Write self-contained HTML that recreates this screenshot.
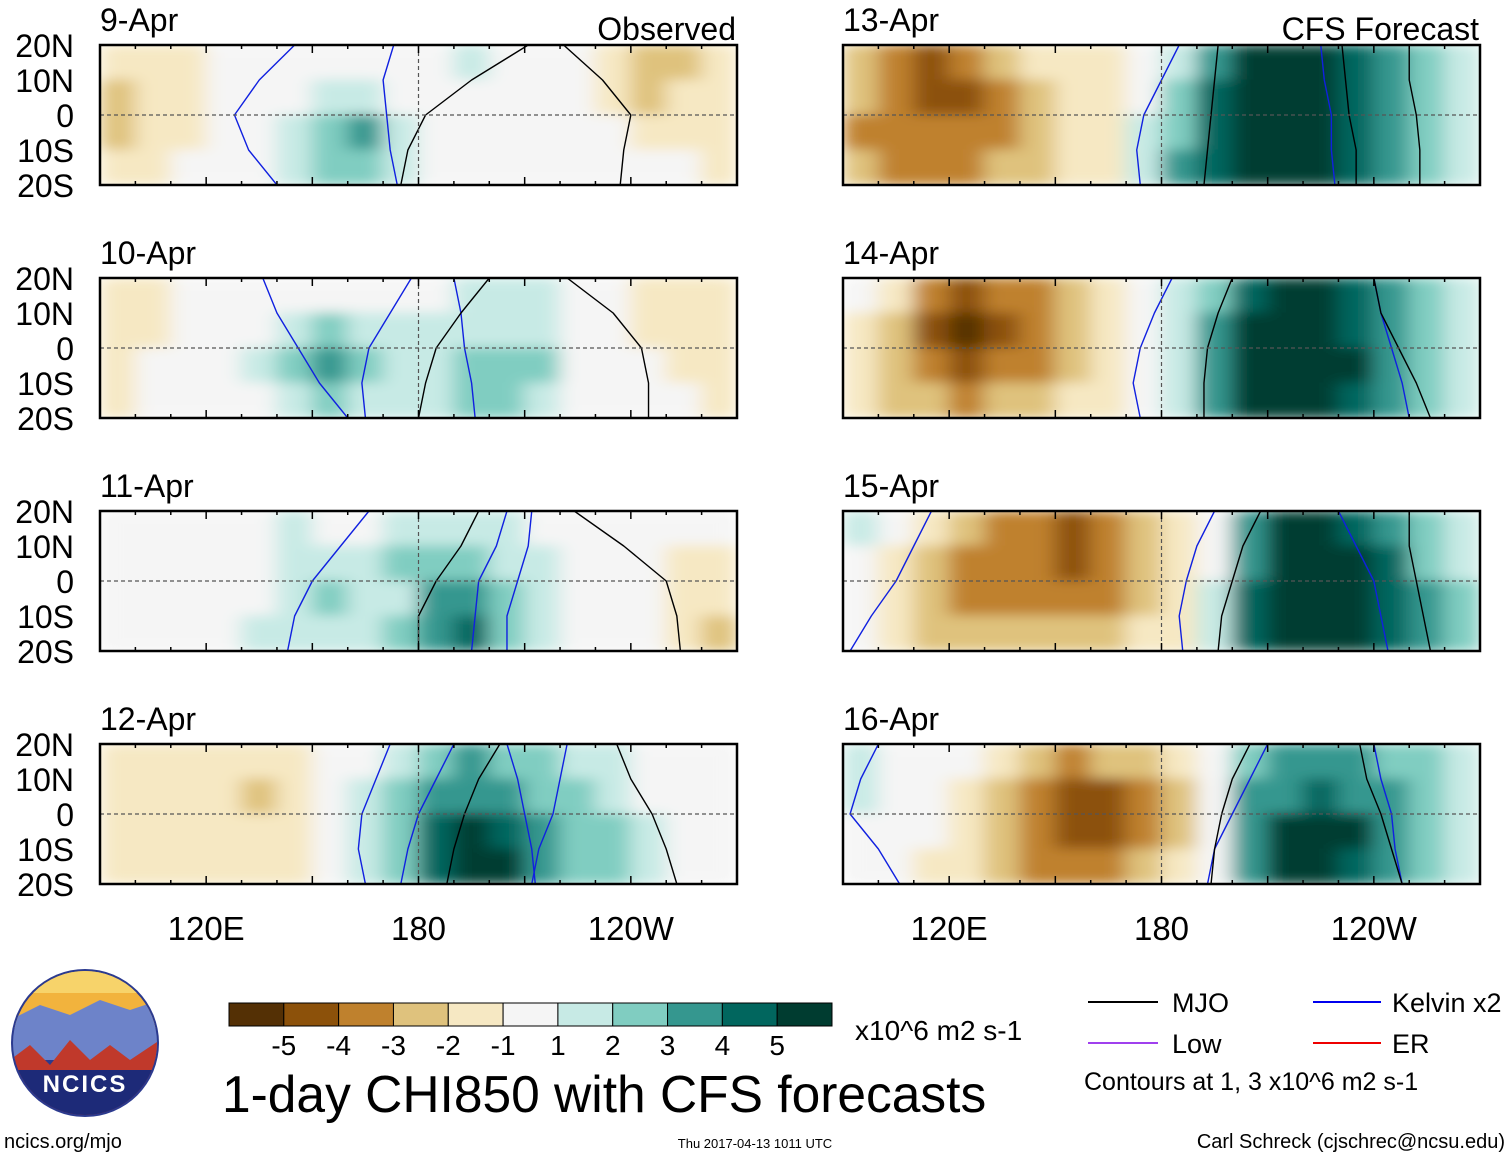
<!DOCTYPE html>
<html><head><meta charset="utf-8"><style>
html,body{margin:0;padding:0;background:#fff;width:1510px;height:1158px;overflow:hidden}
svg{display:block;font-family:"Liberation Sans",sans-serif}
</style></head><body>
<svg id="fig" width="1510" height="1158" viewBox="0 0 1510 1158" xmlns="http://www.w3.org/2000/svg">
<defs><filter id="bl" x="0" y="0" width="1" height="1"><feGaussianBlur stdDeviation="10 6" edgeMode="duplicate"/></filter></defs>
<g id="panels"></g>
<g id="bottom">
 <g>
  <circle cx="85" cy="1043" r="74" fill="#2b3a8f"/>
  <clipPath id="lc"><circle cx="85" cy="1043" r="72"/></clipPath>
  <g clip-path="url(#lc)">
   <rect x="10" y="968" width="150" height="60" fill="#f2b33d"/>
   <rect x="10" y="968" width="150" height="25" fill="#f7d36a"/>
   <path d="M10 1020 L40 1005 L70 1015 L100 1000 L130 1010 L160 1000 L160 1060 L10 1060Z" fill="#6d83c9"/>
   <path d="M10 1060 L30 1045 L50 1065 L70 1040 L90 1060 L110 1045 L130 1060 L160 1040 L160 1120 L10 1120Z" fill="#c0392b"/>
   <path d="M10 1070 L160 1070 L160 1120 L10 1120Z" fill="#1d2a78"/>
  </g>
  <text x="85" y="1092" text-anchor="middle" font-size="24" font-weight="bold" fill="#fff" letter-spacing="2">NCICS</text>
 </g>
 <text x="4" y="1148" font-size="20">ncics.org/mjo</text>
 <g id="cbar"></g>
 <text x="855" y="1040" font-size="28">x10^6 m2 s-1</text>
 <text x="222" y="1112" font-size="51.5">1-day CHI850 with CFS forecasts</text>
 <text x="755" y="1148" font-size="13" text-anchor="middle">Thu 2017-04-13 1011 UTC</text>
 <text x="1505" y="1148" font-size="20" text-anchor="end">Carl Schreck (cjschrec@ncsu.edu)</text>
 <g>
  <line x1="1088" y1="1002" x2="1158" y2="1002" stroke="#000" stroke-width="2"/><text x="1172" y="1012" font-size="27">MJO</text>
  <line x1="1313" y1="1002" x2="1381" y2="1002" stroke="#0000ee" stroke-width="2"/><text x="1392" y="1012" font-size="27">Kelvin x2</text>
  <line x1="1088" y1="1043" x2="1158" y2="1043" stroke="#a040ee" stroke-width="2"/><text x="1172" y="1053" font-size="27">Low</text>
  <line x1="1313" y1="1043" x2="1381" y2="1043" stroke="#ee0000" stroke-width="2"/><text x="1392" y="1053" font-size="27">ER</text>
  <text x="1084" y="1090" font-size="25">Contours at 1, 3 x10^6 m2 s-1</text>
 </g>
</g>
</svg>
<script>
const lonStart = [90,100,110,120,130,140,150,160,170,180,190,200,210,220,230,240,250,260];
const latRows = ["20N-10N","10N-0","0-10S","10S-20S"];
const contourLats = [20,10,0,-10,-20];
const levels = [-5,-4,-3,-2,-1,1,2,3,4,5];
const levelLabels = ["-5","-4","-3","-2","-1","1","2","3","4","5"];
const panelTitles = ["9-Apr","10-Apr","11-Apr","12-Apr","13-Apr","14-Apr","15-Apr","16-Apr"];
const latLabels = ["20N","10N","0","10S","20S"];
const lonLabels = ["120E","180","120W"];
const lonLabelVals = [120,180,240];
const p9 = [[-1.5,-1.5,-1,0,0,0,0,0,0,0,1.5,0,0,0,-1.5,-2.5,-2,-1.5],[-2,-1.5,-1.5,0,0,0,1.5,1.5,0,0,0,0,0,0,-1.5,-2.5,-1.5,-1.5],[-2.5,-1.5,-1.5,0,0,1.5,2.5,3.5,1.5,0,0,0,0,0,0,-1,-1,-1.5],[-1.5,-1.5,0,0,0,1.5,2.5,2.5,1.5,0,0,0,0,0,0,0,0,-1.5]];
const p10 = [[-1.5,-1,0,0,0,0,0,0,0,0,1.5,1.5,1.5,0,0,-1,-1.5,-1.5],[-1.5,-1,0,0,0,1.5,2.5,1.5,1.5,1.5,1.5,1.5,1.5,0,0,-1,-1.5,-1.5],[-1.5,0,0,0,1.5,2.5,3.5,2.5,1.5,1.5,2.5,2.5,2.5,0,0,0,-1.5,-1.5],[-1,0,0,0,0,1.5,2.5,1.5,1.5,1.5,2.5,2.5,1.5,0,0,0,0,-1.5]];
const p11 = [[0,0,0,0,0,1.5,0,0,1.5,1.5,1.5,1.5,0,0,0,0,0,0],[0,0,0,0,0,1.5,1.5,1.5,2.5,2.5,2.5,1.5,1.5,0,0,0,-1,-1.5],[0,0,0,0,0,1.5,2.5,1.5,1.5,3.5,3.5,2.5,1.5,0,0,0,-1.5,-1.5],[0,0,0,0,1.5,1.5,1.5,1.5,2.5,3.5,4.5,2.5,1.5,0,0,0,-1.5,-2.5]];
const p12 = [[-1.5,-1,-1.5,-1.5,-1.5,-1,0,0,1.5,2.5,3.5,2.5,2.5,1.5,1.5,0,0,0],[-1.5,-1.5,-1.5,-1.5,-2.5,-1.5,0,1.5,2.5,3.5,3.5,3.5,2.5,2.5,1.5,0,0,0],[-1.5,-1.5,-1.5,-1.5,-1.5,-1.5,0,1.5,2.5,4.5,5.5,4.5,3.5,2.5,2.5,1.5,0,0],[-1.5,-1.5,-1.5,-1.5,-1.5,-1,0,1.5,2.5,4.5,5.5,5.5,3.5,2.5,2.5,1.5,0,0]];
const p13 = [[-2.5,-3.5,-4.5,-3.5,-2.5,-1.5,-1.5,-1,0,1.5,3.5,5.5,5.5,5.5,4.5,3.5,2.5,1.5],[-2.5,-3.5,-4.5,-4.5,-3.5,-2.5,-1.5,-1,0,2.5,4.5,5.5,5.5,5.5,4.5,3.5,2.5,1.5],[-3.5,-3.5,-3.5,-3.5,-3.5,-2.5,-1.5,-1,1.5,2.5,4.5,5.5,5.5,5.5,4.5,3.5,2.5,1.5],[-2.5,-3.5,-3.5,-3.5,-2.5,-2.5,-1.5,-1,1.5,3.5,4.5,5.5,5.5,5.5,4.5,3.5,2.5,1.5]];
const p14 = [[0,-1.5,-3.5,-4.5,-3.5,-3.5,-2.5,-1.5,0,1.5,2.5,4.5,5.5,5.5,4.5,3.5,2.5,1.5],[-1.5,-2.5,-4.5,-5.5,-4.5,-3.5,-2.5,-1.5,0,1.5,3.5,5.5,5.5,5.5,4.5,3.5,2.5,1.5],[-1.5,-2.5,-3.5,-4.5,-3.5,-3.5,-2.5,-1.5,0,1.5,3.5,5.5,5.5,5.5,5.5,3.5,2.5,1.5],[-1.5,-2.5,-2.5,-3.5,-2.5,-2.5,-1.5,-1,0,1.5,3.5,5.5,5.5,5.5,4.5,3.5,2.5,1.5]];
const p15 = [[1.5,0,-1.5,-2.5,-3.5,-3.5,-4.5,-3.5,-2.5,-1.5,0,3.5,5.5,5.5,4.5,3.5,2.5,1.5],[0,-1.5,-2.5,-3.5,-3.5,-3.5,-4.5,-3.5,-2.5,-1.5,0,3.5,5.5,5.5,5.5,4.5,2.5,1.5],[0,-1.5,-2.5,-3.5,-3.5,-3.5,-3.5,-3.5,-2.5,-1.5,1.5,4.5,5.5,5.5,5.5,4.5,3.5,2.5],[0,-1,-2.5,-2.5,-2.5,-2.5,-2.5,-2.5,-1.5,-1,1.5,4.5,5.5,5.5,5.5,4.5,3.5,2.5]];
const p16 = [[1.5,0,0,0,-1.5,-2.5,-3.5,-2.5,-2.5,-1.5,0,2.5,3.5,3.5,3.5,2.5,2.5,1.5],[1.5,0,0,-1.5,-2.5,-3.5,-4.5,-4.5,-3.5,-2.5,0,3.5,3.5,4.5,3.5,3.5,2.5,1.5],[0,0,0,-1.5,-2.5,-3.5,-4.5,-4.5,-3.5,-2.5,0,3.5,5.5,5.5,5.5,3.5,2.5,1.5],[0,0,-1,-1.5,-2.5,-3.5,-3.5,-3.5,-2.5,-1.5,0,3.5,5.5,5.5,4.5,3.5,2.5,1.5]];
const panelData = [p9,p10,p11,p12,p13,p14,p15,p16];
const mjo9 = [[211,195,182,177,175],[221,232,240,238,237]];
const mjo10 = [[200,192,185,182,180],[222,235,243,245,245]];
const mjo11 = [[197,192,185,180,180],[224,238,250,253,254]];
const mjo12 = [[203,197,193,190,188],[236,240,246,250,253]];
const mjo13 = [[196,195,194,193,192],[231,232,233,235,235],[250,250,252,253,253]];
const mjo14 = [[200,196,193,192,192],[240,242,247,252,256]];
const mjo15 = [[208,203,200,197,196],[250,250,252,254,256]];
const mjo16 = [[205,200,197,195,194],[236,238,242,245,248]];
const mjoData = [mjo9,mjo10,mjo11,mjo12,mjo13,mjo14,mjo15,mjo16];
const kel9 = [[145,135,128,132,140],[173,170,171,172,174]];
const kel10 = [[136,140,146,152,160],[178,172,166,164,165],[190,192,193,195,196]];
const kel11 = [[166,158,150,145,143],[205,202,197,196,195],[212,211,208,205,205]];
const kel12 = [[172,168,164,163,165],[190,185,180,177,175],[205,208,210,212,213],[222,220,218,214,212]];
const kel13 = [[185,180,175,173,174],[225,226,228,228,229]];
const kel14 = [[183,178,174,172,174],[240,242,245,248,250]];
const kel15 = [[115,110,105,98,92],[195,190,187,185,186],[230,235,240,242,244]];
const kel16 = [[100,95,92,100,106],[210,205,200,195,193],[240,242,245,246,248]];
const kelData = [kel9,kel10,kel11,kel12,kel13,kel14,kel15,kel16];

const colors = ["#543005","#8c510a","#bf812d","#dfc27d","#f6e8c3","#f5f5f5","#c7eae5","#80cdc1","#35978f","#01665e","#003c30"];
function colorFor(v){let i=0;while(i<levels.length && v>levels[i]) i++;return colors[i];}
const NS="http://www.w3.org/2000/svg";
function mk(tag,attrs,parent){const e=document.createElementNS(NS,tag);for(const k in attrs)e.setAttribute(k,attrs[k]);parent.appendChild(e);return e;}
const panels=document.getElementById('panels');
const colX=[100,843], W=637, rowY=[45,278,511,744], H=140;
panelData.forEach((grid,pi)=>{
  const col=pi<4?0:1,row=pi%4;
  const x0=colX[col],y0=rowY[row];
  const xs=lon=>x0+(lon-90)/180*W;
  const ys=lat=>y0+(20-lat)/40*H;
  const g=mk('g',{},panels);
  
  
  const cp=mk('clipPath',{id:'cp'+pi},g);mk('rect',{x:x0,y:y0,width:W,height:H},cp);
  const cg=mk('g',{'clip-path':'url(#cp'+pi+')'},g);
  const fg=mk('g',{filter:'url(#bl)'},cg);
  grid.forEach((r,ri)=>r.forEach((v,ci)=>{
    const c=mk('rect',{x:xs(lonStart[ci])-0.5,y:ys(20-ri*10)-0.5,width:W/18+1,height:H/4+1,fill:colorFor(v)},fg);
    
    
  }));
  const drawLines=(set,color,name)=>set.forEach(ln=>{
    const pts=ln.map((lon,i)=>xs(lon)+','+ys(contourLats[i])).join(' ');
    const pl=mk('polyline',{points:pts,fill:'none',stroke:color,'stroke-width':1.4,'stroke-linejoin':'round'},cg);
    
    
  });
  drawLines(kelData[pi],'#1020e0','kelvin-contour');
  drawLines(mjoData[pi],'#000','mjo-contour');
  mk('line',{x1:x0,y1:ys(0),x2:x0+W,y2:ys(0),stroke:'#555','stroke-dasharray':'4 3','stroke-width':1.2},g);
  mk('line',{x1:xs(180),y1:y0,x2:xs(180),y2:y0+H,stroke:'#555','stroke-dasharray':'4 3','stroke-width':1.2},g);
  mk('rect',{x:x0,y:y0,width:W,height:H,fill:'none',stroke:'#000','stroke-width':2.5},g);
  for(let lon=90;lon<=270;lon+=10){const L=lon%30==0?8:4;mk('line',{x1:xs(lon),y1:y0,x2:xs(lon),y2:y0+L,stroke:'#000','stroke-width':1.5},g);mk('line',{x1:xs(lon),y1:y0+H,x2:xs(lon),y2:y0+H-L,stroke:'#000','stroke-width':1.5},g);}
  const t=mk('text',{x:x0,y:y0-14,'font-size':32},g);t.textContent=panelTitles[pi];
  
  if(row==0){const s=mk('text',{x:x0+W-1,y:y0-5,'font-size':32,'text-anchor':'end'},g);s.textContent=col==0?'Observed':'CFS Forecast';
    }
  if(col==0){latLabels.forEach((lb,i)=>{const tt=mk('text',{x:74,y:y0+i*H/4+12,'font-size':32,'text-anchor':'end'},g);tt.textContent=lb;
    });}
  if(row==3){lonLabelVals.forEach((lv,i)=>{const tt=mk('text',{x:xs(lv),y:940,'font-size':33,'text-anchor':'middle'},g);tt.textContent=lonLabels[i];
    });}
});
const cb=document.getElementById('cbar');
const bw=(832-229)/11;
colors.forEach((c,i)=>{const r=mk('rect',{x:229+i*bw,y:1003,width:bw,height:23,fill:c,stroke:'#000','stroke-width':1},cb);
  });
levelLabels.forEach((lb,i)=>{const t=mk('text',{x:229+(i+1)*bw,y:1055,'font-size':28,'text-anchor':'middle'},cb);t.textContent=lb;
  });
</script>
</body></html>
